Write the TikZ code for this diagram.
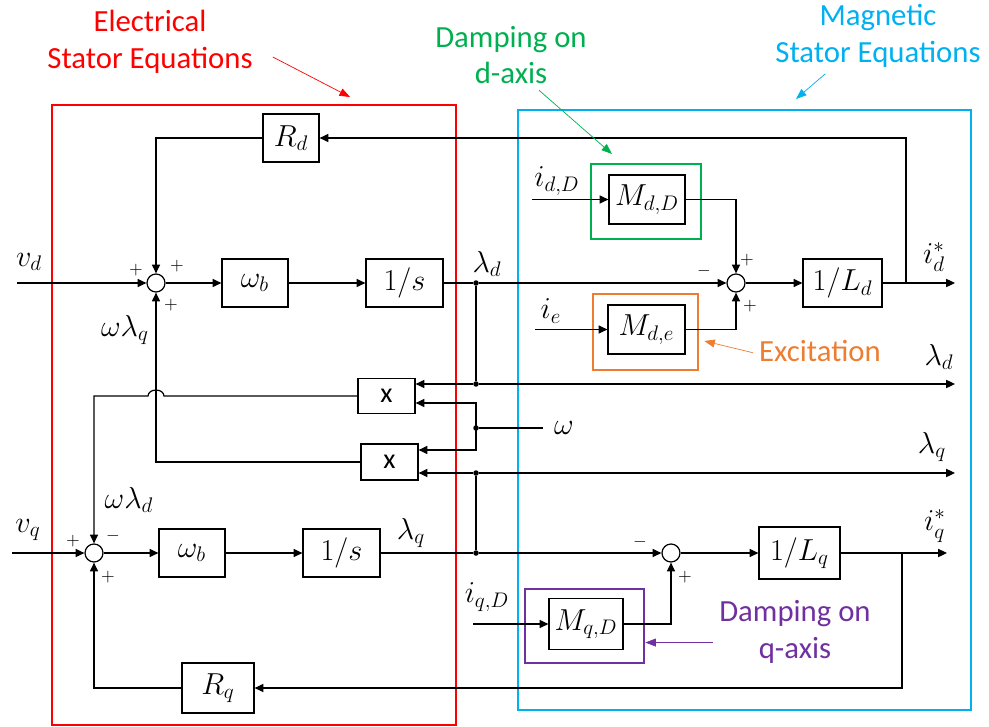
\documentclass[tikz,border=0pt]{standalone}
\usepackage{fontspec}
\setmainfont{Carlito}
\usetikzlibrary{arrows.meta}

\definecolor{elecred}{RGB}{255,0,0}
\definecolor{dampgreen}{RGB}{0,176,80}
\definecolor{magcyan}{RGB}{0,176,240}
\definecolor{excorange}{RGB}{237,125,49}
\definecolor{damppurple}{RGB}{112,48,160}

\newcommand*{\yd}{283}
\newcommand*{\yq}{553}
\newcommand*{\xj}{476}

\begin{document}
\begin{tikzpicture}
[
	x=0.02cm, y=-0.02cm,
	block/.style={draw,line width=0.7pt,inner sep=0pt,minimum height=0.96cm,font=\fontsize{18}{18}\selectfont},
	sumpt/.style={circle,draw,line width=0.7pt,inner sep=0pt,minimum size=0.36cm},
	joinpt/.style={circle,fill,inner sep=0pt,minimum size=0.11cm},
	wire/.style={line width=0.7pt},
	sig/.style={line width=0.7pt,-{Triangle[length=5pt,width=4.6pt]}},
	lbl/.style={font=\fontsize{18}{18}\selectfont},
	sgn/.style={font=\fontsize{10}{10}\selectfont},
	note/.style={font=\fontsize{17.5}{21}\selectfont,align=center},
	frame/.style={line width=1.5pt}
]
	\useasboundingbox (0,0) rectangle (989,726);

	% frames
	\draw[elecred,frame] (52,105) rectangle (456,725);
	\draw[magcyan,frame] (518,110) rectangle (971,710);
	\node[draw=dampgreen,frame,minimum width=2.2cm,minimum height=1.5cm] (gfr) at (646,201.5) {};
	\node[draw=excorange,frame,minimum width=2.1cm,minimum height=1.52cm] (ofr) at (645.5,332) {};
	\node[draw=damppurple,frame,minimum width=2.38cm,minimum height=1.48cm] (pfr) at (584.5,626) {};

	% blocks
	\node[block,minimum width=1.12cm] (Rd) at (291,138) {$R_d$};
	\node[block,minimum width=1.32cm] (wbd) at (255,\yd) {$\omega_b$};
	\node[block,minimum width=1.54cm] (isd) at (404.5,\yd) {$1/s$};
	\node[block,minimum width=1.52cm,minimum height=0.98cm] (MdD) at (647,199.5) {$M_{d,D}$};
	\node[block,minimum width=1.54cm,minimum height=0.98cm] (Mde) at (646.5,329.5) {$M_{d,e}$};
	\node[block,minimum width=1.58cm] (iLd) at (842.5,\yd) {$1/L_d$};
	\node[block,minimum width=1.14cm,minimum height=0.7cm,font=\fontsize{16}{16}\selectfont] (X1) at (386.5,396) {x};
	\node[block,minimum width=1.14cm,minimum height=0.72cm,font=\fontsize{16}{16}\selectfont] (X2) at (389.5,462) {x};
	\node[block,minimum width=1.32cm] (wbq) at (192,\yq) {$\omega_b$};
	\node[block,minimum width=1.54cm] (isq) at (341.5,\yq) {$1/s$};
	\node[block,minimum width=1.62cm,minimum height=1.04cm] (iLq) at (799.5,\yq) {$1/L_q$};
	\node[block,minimum width=1.44cm,minimum height=1.0cm] (Rq) at (218,688) {$R_q$};
	\node[block,minimum width=1.48cm,minimum height=1.02cm] (MqD) at (586,624) {$M_{q,D}$};

	% summing points and branch points
	\node[sumpt] (sd) at (156,\yd) {};
	\node[sumpt] (sq) at (94,\yq) {};
	\node[sumpt] (smd) at (736,\yd) {};
	\node[sumpt] (smq) at (671,\yq) {};
	\node[joinpt] (ld) at (\xj,\yd) {};
	\node[joinpt] (ld2) at (\xj,384) {};
	\node[joinpt] (w) at (\xj,428) {};
	\node[joinpt] (lq2) at (\xj,473) {};
	\node[joinpt] (lq) at (\xj,\yq) {};

	\coordinate (vdin) at (17,\yd);
	\coordinate (vqin) at (12,\yq);
	\coordinate (idout) at (955,\yd);
	\coordinate (iqout) at (947,\yq);
	\coordinate (ldout) at (955,384);
	\coordinate (lqout) at (955,473);
	\coordinate (win) at (543,428);
	\coordinate (wtop) at (\xj,403);
	\coordinate (wbot) at (\xj,450);
	\coordinate (fbd) at (906,\yd);
	\coordinate (fbq) at (902,\yq);
	\coordinate (hopa) at (164,396);
	\coordinate (idDin) at (532,199.5);
	\coordinate (iein) at (535,329.5);
	\coordinate (iqDin) at (473,624);

	% d-axis
	\draw[sig] (vdin) -- (sd);
	\draw[sig] (sd) -- (wbd);
	\draw[sig] (wbd) -- (isd);
	\draw[wire] (isd) -- (ld);
	\draw[sig] (ld) -- (smd);
	\draw[sig] (smd) -- (iLd);
	\draw[sig] (iLd) -- (idout);
	\draw[sig] (fbd) |- (Rd.east);
	\draw[sig] (Rd.west) -| (sd.north);
	\draw[sig] (idDin) -- (MdD);
	\draw[sig] (iein) -- (Mde);
	\draw[sig] (MdD.east) -| (smd.north);
	\draw[sig] (Mde.east) -| (smd.south);

	% cross coupling
	\draw[wire] (ld) -- (ld2);
	\draw[sig] (ld2) -- (ld2 -| X1.east);
	\draw[sig] (ld2) -- (ldout);
	\draw[wire] (w) -- (win);
	\draw[sig] (w.center) -- (wtop) -- (wtop -| X1.east);
	\draw[sig] (w.center) -- (wbot) -- (wbot -| X2.east);
	\draw[wire] (lq) -- (lq2);
	\draw[sig] (lq2) -- (lq2 -| X2.east);
	\draw[sig] (lq2) -- (lqout);
	\draw[sig] (X1.west) -- (hopa) arc[start angle=0,end angle=-180,x radius=8,y radius=6] -- (sq |- X1.west) -- (sq.north);
	\draw[sig] (X2.west) -| (sd.south);

	% q-axis
	\draw[sig] (vqin) -- (sq);
	\draw[sig] (sq) -- (wbq);
	\draw[sig] (wbq) -- (isq);
	\draw[wire] (isq) -- (lq);
	\draw[sig] (lq) -- (smq);
	\draw[sig] (smq) -- (iLq);
	\draw[sig] (iLq) -- (iqout);
	\draw[sig] (fbq) |- (Rq.east);
	\draw[sig] (Rq.west) -| (sq.south);
	\draw[sig] (iqDin) -- (MqD);
	\draw[sig] (MqD.east) -| (smq.south);

	% signal labels
	\node[lbl] (lvd) at (29,262) {$v_d$};
	\node[lbl] (lvq) at (28,530) {$v_q$};
	\node[lbl] (lld) at (487,264) {$\lambda_d$};
	\node[lbl] (llq) at (411,533) {$\lambda_q$};
	\node[lbl] (lwlq) at (125,330) {$\omega\lambda_q$};
	\node[lbl] (lwld) at (129,500) {$\omega\lambda_d$};
	\node[lbl] (lidst) at (934,257) {$i_d^*$};
	\node[lbl] (liqst) at (935,526) {$i_q^*$};
	\node[lbl] (lldo) at (939,357) {$\lambda_d$};
	\node[lbl] (llqo) at (932,447) {$\lambda_q$};
	\node[lbl] (lw) at (564,428) {$\omega$};
	\node[lbl] (lidD) at (557,181) {$i_{d,D}$};
	\node[lbl] (lie) at (551,311) {$i_e$};
	\node[lbl] (liqD) at (487,597) {$i_{q,D}$};

	% signs
	\node[sgn] at (136,270) {$+$};
	\node[sgn] at (177,266) {$+$};
	\node[sgn] at (171,305) {$+$};
	\node[sgn] at (73,541) {$+$};
	\node[sgn] at (113,536) {$-$};
	\node[sgn] at (108,577) {$+$};
	\node[sgn] at (704,271) {$-$};
	\node[sgn] at (747,260) {$+$};
	\node[sgn] at (750,306) {$+$};
	\node[sgn] at (640,542) {$-$};
	\node[sgn] at (685,577) {$+$};

	% notes
	\node[note,text=elecred] (nelec) at (150,42) {Electrical\\Stator Equations};
	\node[note,text=magcyan] (nmag) at (878,36) {Magnetic\\Stator Equations};
	\node[note,text=dampgreen] (ndd) at (511,55) {Damping on\\d-axis};
	\node[note,text=excorange] (nexc) at (820,351) {Excitation};
	\node[note,text=damppurple] (ndq) at (795,632) {Damping on\\q-axis};

	\coordinate (etip) at (350,97);
	\coordinate (mtip) at (796,99);
	\coordinate (gtip) at (612,154);
	\draw[elecred,-{Triangle[length=6pt,width=4.5pt]}] ([shift={(14,15)}]nelec.east) -- (etip);
	\draw[magcyan,-{Triangle[length=6pt,width=4.5pt]}] ([xshift=-30pt]nmag.south) -- (mtip);
	\draw[dampgreen,-{Triangle[length=6pt,width=4.5pt]}] ([xshift=16pt]ndd.south) -- (gtip);
	\draw[excorange,-{Triangle[length=6pt,width=4.5pt]}] ([yshift=-1pt]nexc.west) -- ([shift={(5,9)}]ofr.east);
	\draw[damppurple,-{Triangle[length=6pt,width=4.5pt]}] ([yshift=-6pt]ndq.west) -- ([yshift=-6pt]ndq.west -| pfr.east);

\end{tikzpicture}
\end{document}
